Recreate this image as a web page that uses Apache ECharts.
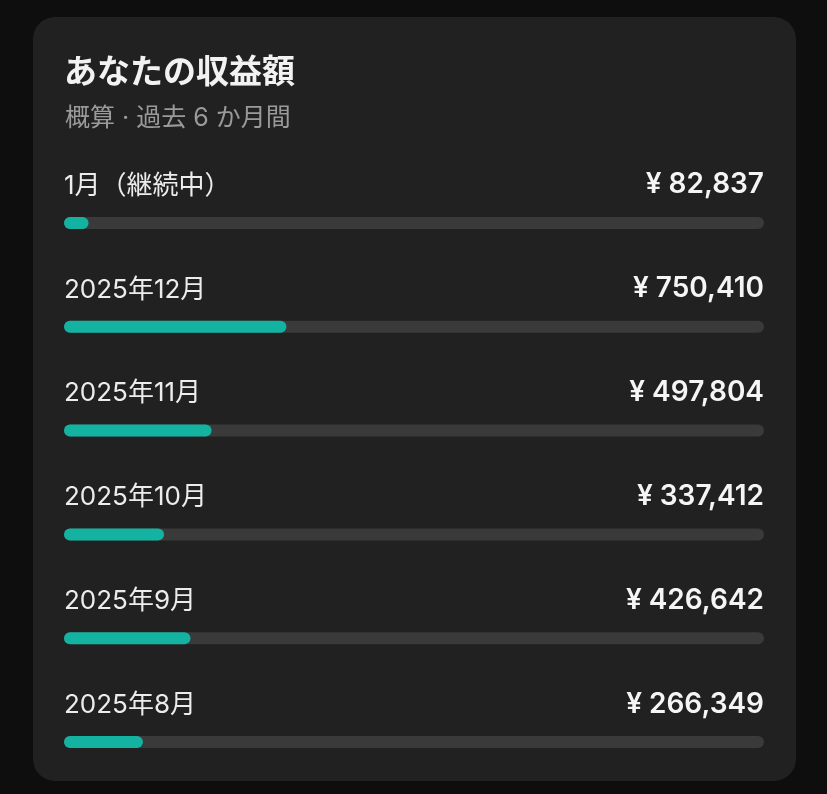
<!DOCTYPE html>
<html>
<head>
<meta charset="utf-8">
<script src="https://cdn.jsdelivr.net/npm/echarts@6/dist/echarts.min.js"></script>
<style>
html,body{margin:0;padding:0;background:#0e0e0e;}
#c{width:827px;height:794px;}
</style>
</head>
<body>
<div id="c"></div>
<script>
const titleText = 'あなたの収益額';
const subtitleText = '概算 · 過去 6 か月間';
const months = ['1月（継続中）', '2025年12月', '2025年11月', '2025年10月', '2025年9月', '2025年8月'];
const values = [82837, 750410, 497804, 337412, 426642, 266349];

const total = values.reduce((a, b) => a + b, 0);
const FONT = 'Inter, "Noto Sans CJK JP", "Noto Sans", sans-serif';
const CJK = '"Noto Sans CJK JP", "Noto Sans", sans-serif';
const chart = echarts.init(document.getElementById('c'), null, {renderer: 'canvas'});

chart.setOption({
  backgroundColor: '#0e0e0e',
  animation: false,
  graphic: [
    {type: 'rect', z: -10, shape: {x: 33, y: 17, width: 763, height: 764, r: 22}, style: {fill: '#212121'}},
    {type: 'text', left: 64, top: 54, style: {text: titleText, fill: '#f2f2f2', font: 'bold 33px ' + CJK}},
    {type: 'text', left: 65, top: 106, style: {text: subtitleText, fill: '#9a9a9a', font: '25px ' + FONT}}
  ],
  grid: {left: 64, right: 63, top: 171, height: 624},
  xAxis: {type: 'value', min: 0, max: total, show: false},
  yAxis: {type: 'category', data: months, inverse: true, show: false},
  series: [
    {
      type: 'bar',
      data: months.map(() => total),
      barWidth: 12,
      itemStyle: {color: '#3a3a3a', borderRadius: 6},
      label: {
        show: true,
        position: ['100%', -32],
        align: 'right',
        verticalAlign: 'middle',
        color: '#f5f5f5',
        fontFamily: FONT,
        fontSize: 28,
        fontWeight: 600,
        formatter: p => '¥ ' + values[p.dataIndex].toLocaleString('en-US')
      }
    },
    {
      type: 'bar',
      data: values,
      barWidth: 12,
      barGap: '-100%',
      itemStyle: {color: '#14b3a1', borderRadius: 6},
      label: {
        show: true,
        position: [0, -31],
        align: 'left',
        verticalAlign: 'middle',
        color: '#ececec',
        fontFamily: FONT,
        fontSize: 26,
        fontWeight: 400,
        formatter: p => p.name
      }
    }
  ]
});
</script>
</body>
</html>
